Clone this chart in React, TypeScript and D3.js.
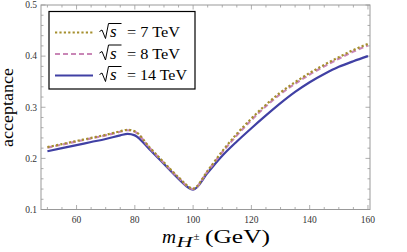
import React, { useEffect, useRef } from "react";
import * as d3 from "d3";

// data
const masses = [50, 55, 60, 65, 70, 75, 77.5, 80, 85, 90, 95, 100, 105, 110, 115, 120, 125, 130, 135, 140, 145, 150, 155, 160];
const acc7 = [0.222, 0.228, 0.234, 0.240, 0.246, 0.253, 0.256, 0.253, 0.222, 0.192, 0.163, 0.141, 0.176, 0.214, 0.248, 0.278, 0.305, 0.329, 0.349, 0.367, 0.383, 0.398, 0.412, 0.424];
const acc8 = [0.221, 0.227, 0.233, 0.239, 0.245, 0.252, 0.255, 0.252, 0.221, 0.191, 0.162, 0.140, 0.175, 0.212, 0.245, 0.275, 0.302, 0.326, 0.346, 0.364, 0.380, 0.395, 0.409, 0.421];
const acc14 = [0.214, 0.220, 0.226, 0.232, 0.238, 0.245, 0.248, 0.245, 0.218, 0.189, 0.160, 0.139, 0.172, 0.205, 0.233, 0.259, 0.284, 0.308, 0.330, 0.349, 0.365, 0.379, 0.390, 0.400];
const energies = ["7", "8", "14"];
const xTicks = [60, 80, 100, 120, 140, 160];
const yTicks = [0.1, 0.2, 0.3, 0.4, 0.5];

const series = [
  { values: acc7, color: "#a58f2e", dash: "2.2,2.2", width: 2.2 },
  { values: acc8, color: "#c986b6", dash: "5,3", width: 2.2 },
  { values: acc14, color: "#4040a4", dash: null, width: 2.2 },
];

const W = 407;
const H = 252;
const serif = "'Liberation Serif', 'Times New Roman', 'DejaVu Serif', serif";

export default function App() {
  const ref = useRef<SVGSVGElement>(null);

  useEffect(() => {
    const svg = d3.select(ref.current);
    svg.selectAll("*").remove();

    const left = 41, right = 370, top = 5, bottom = 209.5;
    const x = d3.scaleLinear().domain([47.8, 160.7]).range([left, right]);
    const y = d3.scaleLinear().domain([0.1, 0.5]).range([bottom, top]);

    const frameColor = "#999";

    // ticks (inward, all four sides)
    const tg = svg.append("g").attr("stroke", frameColor).attr("stroke-width", 0.8);
    for (let v = 50; v <= 160; v += 5) {
      const major = v % 20 === 0;
      const len = major ? 4.5 : 2.5;
      tg.append("line").attr("x1", x(v)).attr("x2", x(v)).attr("y1", bottom).attr("y2", bottom - len);
      tg.append("line").attr("x1", x(v)).attr("x2", x(v)).attr("y1", top).attr("y2", top + len);
    }
    for (let i = 0; i <= 20; i++) {
      const v = 0.1 + i * 0.02;
      const major = i % 5 === 0;
      const len = major ? 4.5 : 2.5;
      tg.append("line").attr("y1", y(v)).attr("y2", y(v)).attr("x1", left).attr("x2", left + len);
      tg.append("line").attr("y1", y(v)).attr("y2", y(v)).attr("x1", right).attr("x2", right - len);
    }

    // frame
    svg.append("rect")
      .attr("x", left).attr("y", top)
      .attr("width", right - left).attr("height", bottom - top)
      .attr("fill", "none").attr("stroke", frameColor).attr("stroke-width", 1);

    // tick labels
    svg.append("g").selectAll("text").data(xTicks).enter().append("text")
      .attr("x", (d) => x(d)).attr("y", bottom + 13)
      .attr("text-anchor", "middle")
      .attr("font-family", serif).attr("font-size", 9.5).attr("fill", "#333")
      .text((d) => d);
    svg.append("g").selectAll("text").data(yTicks).enter().append("text")
      .attr("x", left - 4).attr("y", (d) => y(d) + 3.3)
      .attr("text-anchor", "end")
      .attr("font-family", serif).attr("font-size", 9.5).attr("fill", "#333")
      .text((d) => d.toFixed(1));

    // curves
    const line = d3.line<number>()
      .x((_, i) => x(masses[i]))
      .y((d) => y(d))
      .curve(d3.curveMonotoneX);

    series.slice().reverse().forEach((s) => {
      svg.append("path")
        .attr("d", line(s.values) as string)
        .attr("fill", "none")
        .attr("stroke", s.color)
        .attr("stroke-width", s.width)
        .attr("stroke-dasharray", s.dash ?? null);
    });

    // legend
    const lx = 49, ly = 11.5, lw = 146, lh = 77.5;
    const lg = svg.append("g");
    lg.append("rect")
      .attr("x", lx).attr("y", ly).attr("width", lw).attr("height", lh)
      .attr("fill", "white").attr("stroke", "#000").attr("stroke-width", 1.2);

    series.forEach((s, i) => {
      const cy = 32.5 + i * 21.5;
      lg.append("line")
        .attr("x1", 55).attr("x2", 93)
        .attr("y1", cy).attr("y2", cy)
        .attr("stroke", s.color).attr("stroke-width", s.width)
        .attr("stroke-dasharray", s.dash ?? null);
      // radical sign
      const rx = 99.5;
      lg.append("path")
        .attr("d", `M${rx},${cy - 1} L${rx + 2.5},${cy - 2.5} L${rx + 6},${cy + 6} L${rx + 9},${cy - 9} L${rx + 22},${cy - 9}`)
        .attr("fill", "none").attr("stroke", "#000").attr("stroke-width", 1)
        .attr("stroke-linejoin", "miter");
      lg.append("text")
        .attr("x", rx + 10.5).attr("y", cy + 4.5)
        .attr("font-family", serif).attr("font-size", 17).attr("font-style", "italic")
        .text("s");
      const label = `= ${energies[i]} TeV`;
      lg.append("text")
        .attr("x", 127).attr("y", cy + 4.5)
        .attr("font-family", serif).attr("font-size", 14.5)
        .attr("textLength", energies[i].length > 1 ? 60 : 53)
        .attr("lengthAdjust", "spacingAndGlyphs")
        .text(label);
    });

    // axis titles
    svg.append("text")
      .attr("transform", `translate(12.5, ${(68 + 147) / 2}) rotate(-90)`)
      .attr("text-anchor", "middle")
      .attr("font-family", serif).attr("font-size", 16)
      .attr("textLength", 79)
      .attr("lengthAdjust", "spacingAndGlyphs")
      .text("acceptance");

    const bx = 243;
    svg.append("text")
      .attr("x", 162).attr("y", bx)
      .attr("font-family", serif).attr("font-size", 18).attr("font-style", "italic")
      .attr("textLength", 14).attr("lengthAdjust", "spacingAndGlyphs")
      .text("m");
    svg.append("text")
      .attr("x", 176.5).attr("y", bx + 3.5)
      .attr("font-family", serif).attr("font-size", 14).attr("font-style", "italic")
      .attr("textLength", 16).attr("lengthAdjust", "spacingAndGlyphs")
      .text("H");
    svg.append("text")
      .attr("x", 193.5).attr("y", bx - 3.5)
      .attr("font-family", serif).attr("font-size", 11)
      .text("±");
    svg.append("text")
      .attr("x", 205).attr("y", bx)
      .attr("font-family", serif).attr("font-size", 18)
      .attr("textLength", 65).attr("lengthAdjust", "spacingAndGlyphs")
      .text("(GeV)");
  }, []);

  return <svg ref={ref} width={W} height={H} style={{ position: "absolute", left: 0, top: 0, background: "white" }} />;
}
